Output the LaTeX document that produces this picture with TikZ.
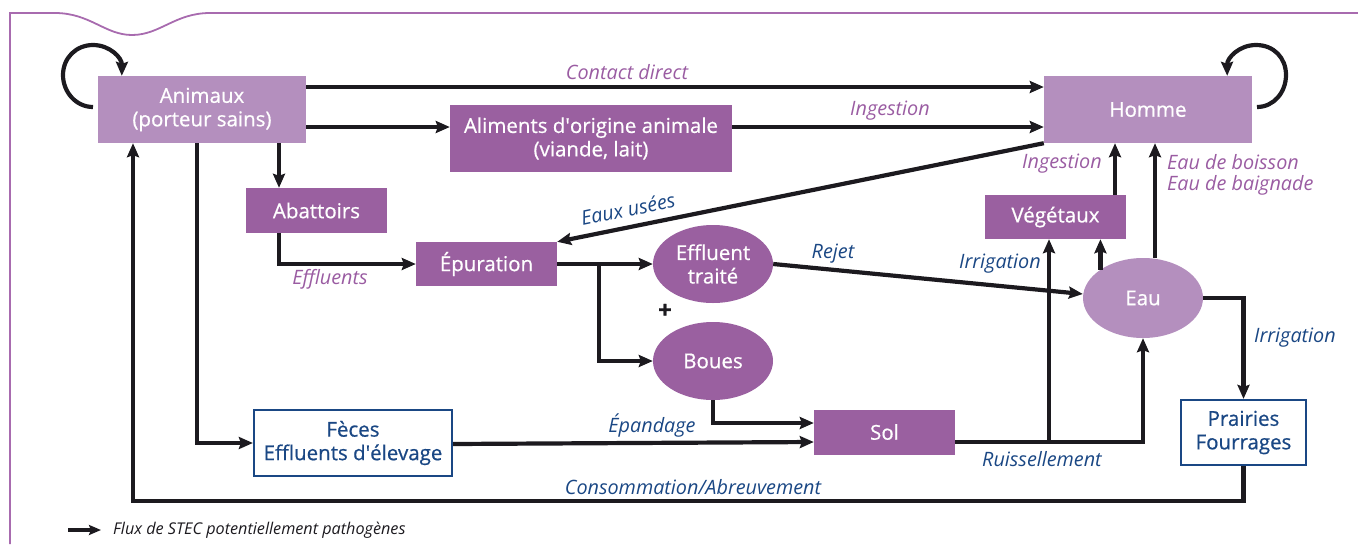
\documentclass[tikz,border=0pt]{standalone}
\usepackage{fontspec}
\setmainfont{Open Sans}
\newfontfamily\nodefont{Open Sans}[FakeBold=0.6]
\usetikzlibrary{arrows.meta,shapes.geometric}
\definecolor{lightp}{HTML}{B48FBE}
\definecolor{darkp}{HTML}{9A60A0}
\definecolor{labp}{HTML}{9A5CA2}
\definecolor{bluet}{HTML}{1A4784}
\definecolor{framec}{HTML}{A86BAF}
\definecolor{arrowc}{HTML}{1C1A1F}
\tikzset{
  box/.style={rectangle, inner sep=0pt, align=center, text=white, font=\nodefont\fontsize{20.5}{23.5}\selectfont},
  lbox/.style={box, fill=lightp},
  dbox/.style={box, fill=darkp},
  wbox/.style={box, fill=white, draw=bluet, line width=2.2pt, text=bluet},
  ell/.style={ellipse, inner sep=0pt, align=center, text=white, font=\nodefont\fontsize{20.5}{23.5}\selectfont},
  flow/.style={draw=arrowc, line width=4.2pt, -{Stealth[length=14pt,width=12pt,inset=2pt]}},
  plab/.style={text=labp, font=\itshape\fontsize{19.8}{21}\selectfont, inner sep=0pt},
  blab/.style={text=bluet, font=\itshape\fontsize{19.8}{21}\selectfont, inner sep=0pt},
}
\begin{document}
\begin{tikzpicture}[x=1pt,y=-1pt]
\useasboundingbox (0,0) rectangle (1358,544);
% frame
\draw[framec, line width=1.8pt] (10,544) -- (10,13) -- (55,13) .. controls (90,13) and (105,35) .. (132,35) .. controls (160,35) and (175,13) .. (210,13) -- (1358,13);

% nodes
\node[lbox, minimum width=208pt, minimum height=67pt] (animaux) at (202,109.5) {Animaux\\(porteur sains)};
\node[lbox, minimum width=208pt, minimum height=67pt] (homme) at (1148,109.5) {Homme};
\node[dbox, minimum width=282pt, minimum height=67pt] (aliments) at (591,138.5) {Aliments d\textquotesingle origine animale\\(viande, lait)};
\node[dbox, minimum width=141pt, minimum height=45pt] (abattoirs) at (316.5,210.5) {Abattoirs};
\node[dbox, minimum width=141pt, minimum height=44pt] (epur) at (486.5,264) {Épuration};
\node[ell, fill=darkp, minimum width=120pt, minimum height=78pt] (eff) at (713,264) {Effluent\\traité};
\node[ell, fill=darkp, minimum width=120pt, minimum height=78pt] (boues) at (713,361) {Boues};
\node[dbox, minimum width=141pt, minimum height=44pt] (veg) at (1055.5,217) {Végétaux};
\node[ell, fill=lightp, minimum width=120pt, minimum height=80pt] (eau) at (1143,298) {Eau};
\node[wbox, minimum width=198pt, minimum height=66pt] (feces) at (353,443) {Fèces\\Effluents d\textquotesingle élevage};
\node[dbox, minimum width=141pt, minimum height=45pt] (sol) at (884.5,432) {Sol};
\node[wbox, minimum width=125pt, minimum height=65pt] (prairies) at (1243.5,432.5) {Prairies\\Fourrages};
\node[font=\nodefont\bfseries\fontsize{24}{26}\selectfont, text=arrowc, inner sep=0pt] (plus) at (665,311) {+};

% self loops
\draw[flow] (93,107) .. controls (76,107) and (63,92) .. (63,75) .. controls (63,58) and (76,45) .. (93,45) .. controls (110,45) and (122,58) .. ([xshift=24pt]animaux.north west);
\draw[flow] (1257,107) .. controls (1274,107) and (1286,92) .. (1286,75) .. controls (1286,58) and (1274,45) .. (1256,45) .. controls (1239,45) and (1227,58) .. ([xshift=-25pt]homme.north east);

% main flows
\draw[flow] ([yshift=22.5pt]animaux.east) -- ([yshift=22.5pt]homme.west);
\draw[flow] ([yshift=-17.5pt]animaux.east) -- ([yshift=11.5pt]aliments.west);
\draw[flow] ([yshift=11.5pt]aliments.east) -- ([yshift=-17.5pt]homme.west);
\draw[flow] ([xshift=77pt]animaux.south) -- ([xshift=77pt]animaux.south |- abattoirs.north);
\draw[flow] ([xshift=-37.5pt]abattoirs.south) |- (epur.west);
\draw[flow] (homme.south west) -- (epur.north east);
\draw[flow] (epur.east) -- (eff.west);
\coordinate (br) at ([xshift=42pt]epur.east);
\draw[flow] (br) |- (boues.west);
\draw[flow] (eff.east) -- ([yshift=4pt]eau.west);
\draw[flow] (boues.south) |- ([yshift=9pt]sol.west);
\draw[flow] ([yshift=-1pt]feces.east) -- ([yshift=-10pt]sol.west);
\draw[flow] ([xshift=-5pt]animaux.south) |- (feces.west);
\draw[flow] ([yshift=-10pt]sol.east) -| (eau.south);
\coordinate (ruis) at ([xshift=-6.5pt]veg.south |- sol.east);
\draw[flow] ([yshift=-10pt]ruis) -- ([xshift=-6.5pt]veg.south);
\draw[flow] (eau.north west) -- (eau.north west |- veg.south);
\draw[flow] ([xshift=59.5pt]veg.north) -- ([xshift=59.5pt]veg.north |- homme.south);
\draw[flow] ([xshift=12pt]eau.north) -- ([xshift=12pt]eau.north |- homme.south);
\draw[flow] (eau.east) -| (prairies.north);
\draw[flow] (prairies.south) -- ++(0,35) -| ([xshift=-69pt]animaux.south);

% labels
\node[plab] (l1) at (627,72) {Contact direct};
\node[plab] (l2) at (890,111) {Ingestion};
\node[plab] (l3) at (1062,164) {Ingestion};
\node[plab, anchor=west, align=left] (l4) at (1167,175) {Eau de boisson\\Eau de baignade};
\node[plab] (l5) at (330,279) {Effluents};
\node[blab, rotate=11.5] (l6) at (628,209) {Eaux usées};
\node[blab] (l7) at (833,254) {Rejet};
\node[blab] (l8) at (1000,264) {Irrigation};
\node[blab] (l9) at (1295,338) {Irrigation};
\node[blab] (l10) at (652,426) {Épandage};
\node[blab] (l11) at (1042,459) {Ruissellement};
\node[blab] (l12) at (693,487) {Consommation/Abreuvement};

% legend
\coordinate (lg0) at (68,530);
\coordinate (lg1) at (101,530);
\draw[draw=arrowc, line width=4pt, -{Stealth[length=12pt,width=10pt,inset=2pt]}] (lg0) -- (lg1);
\node[anchor=west, font=\itshape\fontsize{16.2}{18}\selectfont, text=arrowc, inner sep=0pt] (lgt) at (113,530) {Flux de STEC potentiellement pathogènes};
\end{tikzpicture}
\end{document}
